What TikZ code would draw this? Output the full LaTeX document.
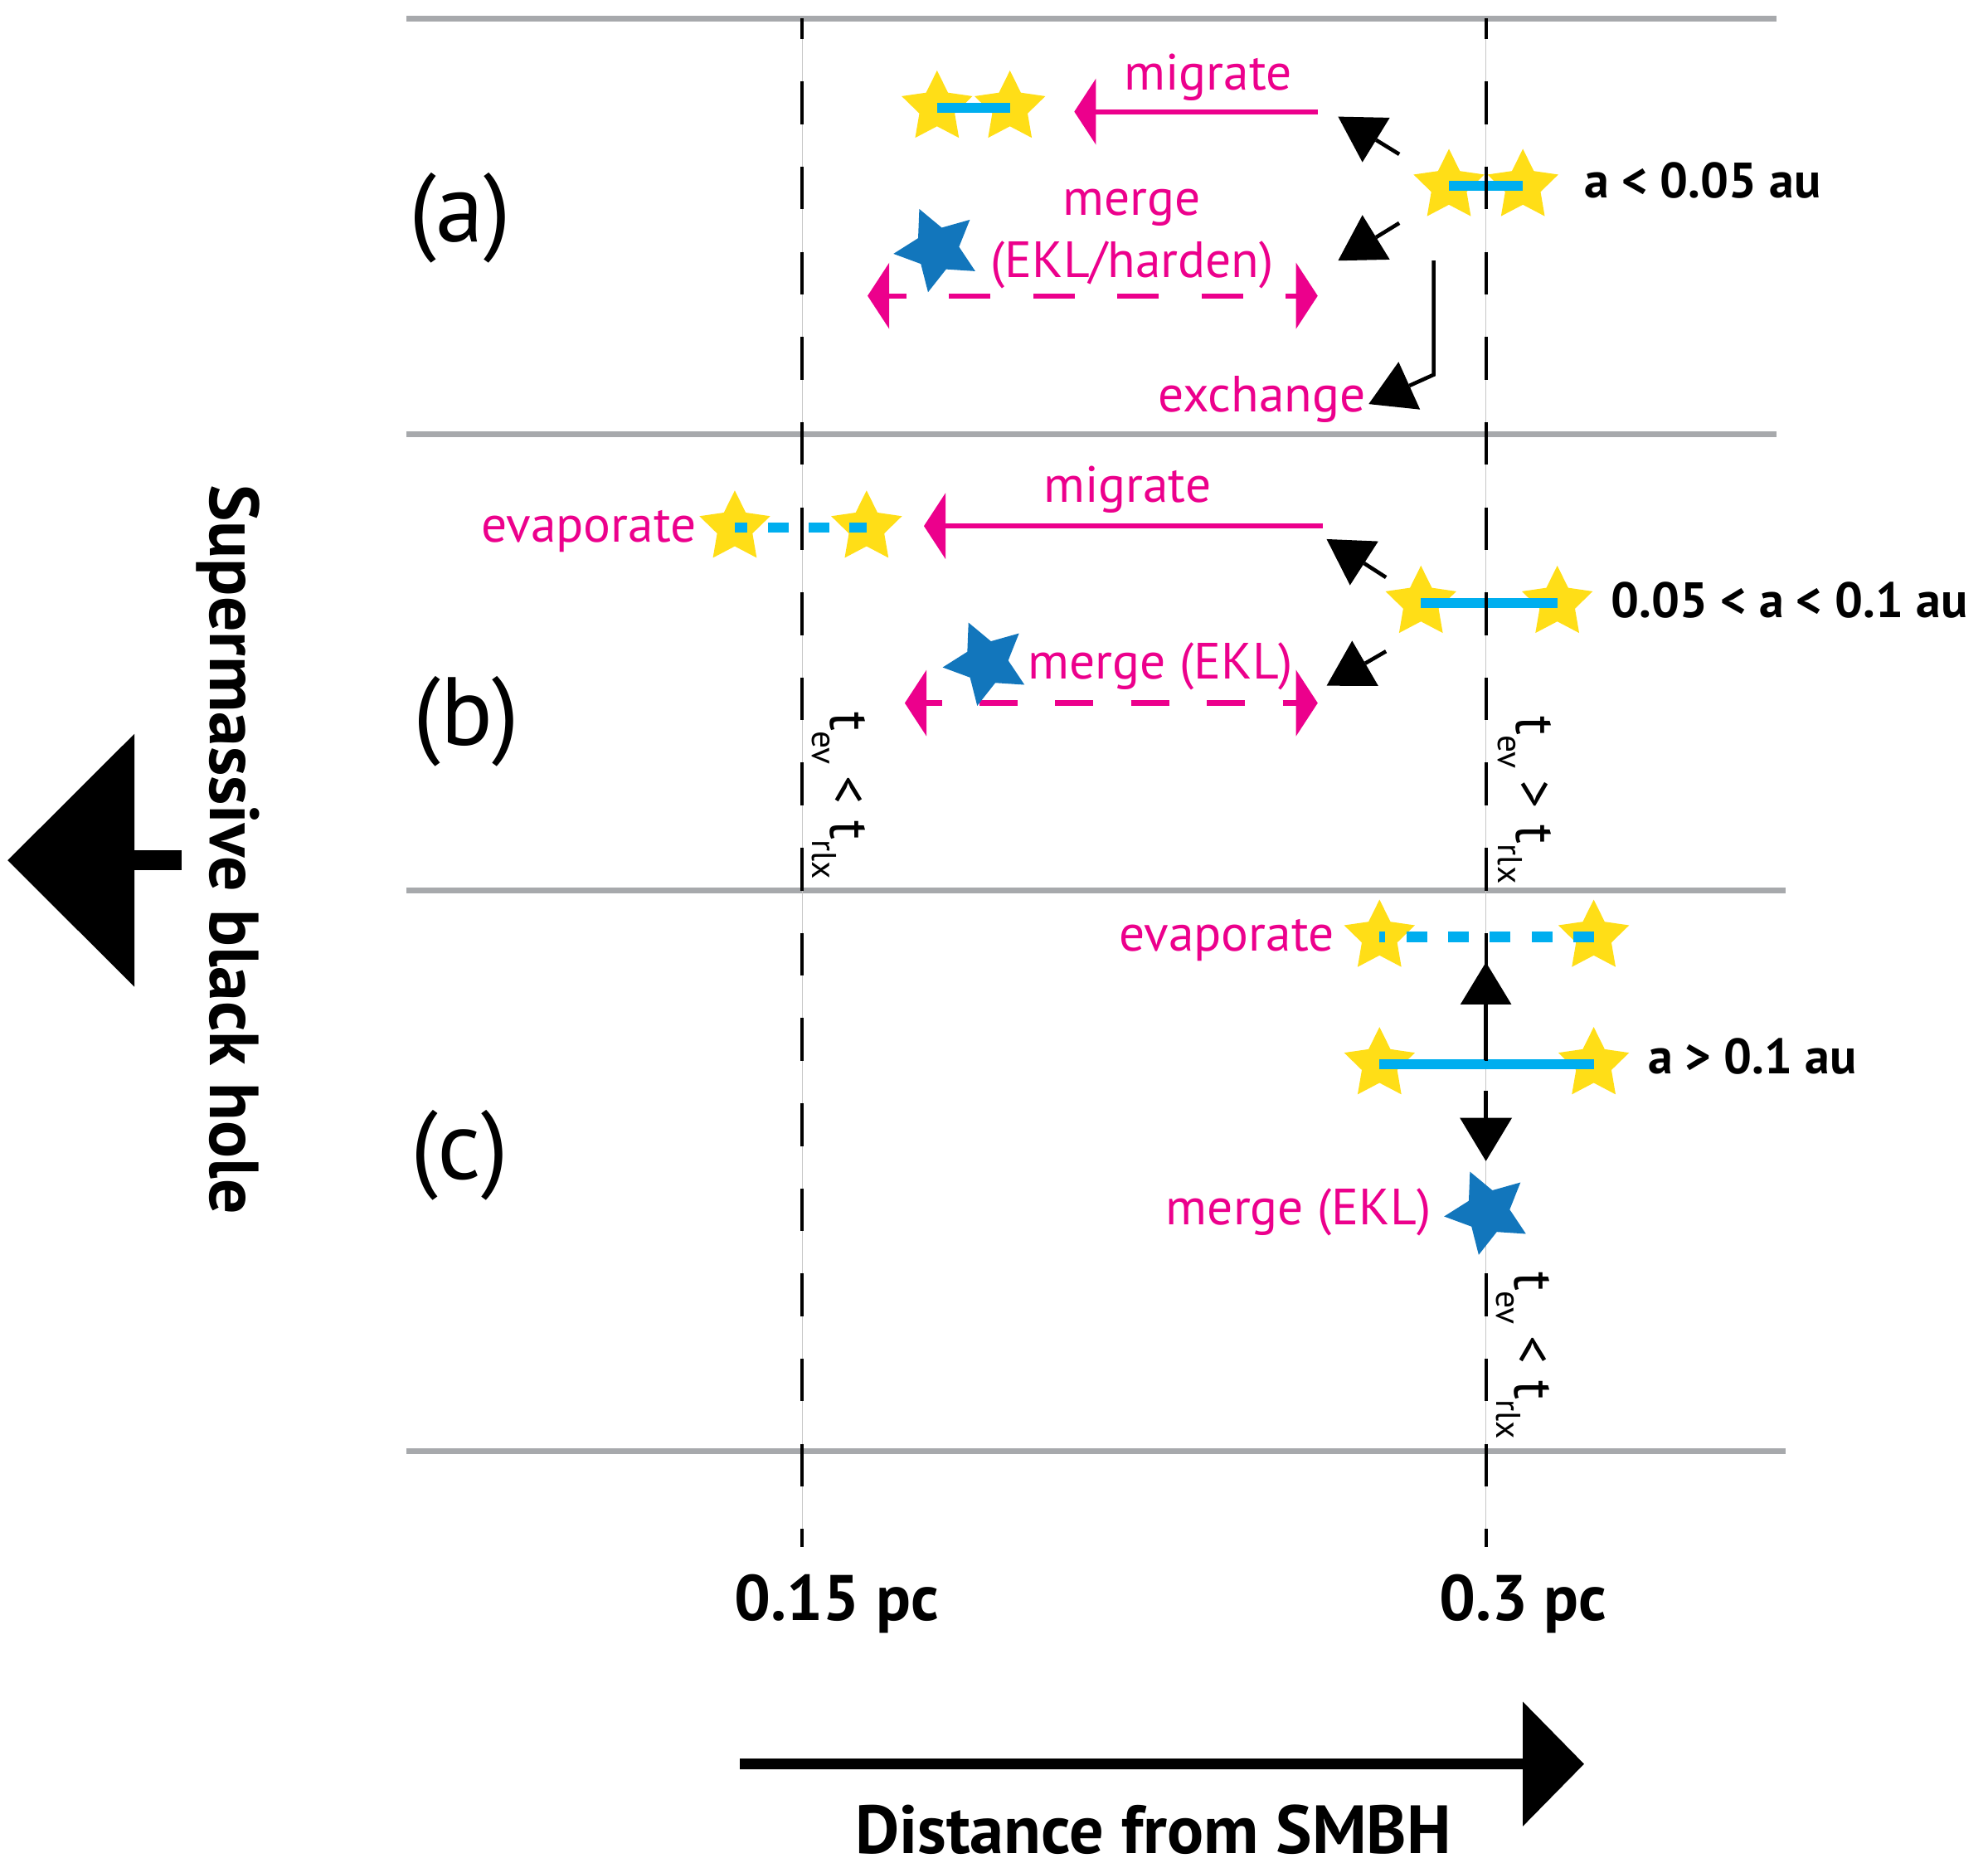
\documentclass[tikz,border=0pt]{standalone}
\usepackage{fontspec}
\setmainfont{PT Sans}
\usetikzlibrary{arrows.meta,shapes.geometric}
\definecolor{mag}{HTML}{EC008C}
\definecolor{ystarc}{HTML}{FFDE17}
\definecolor{cyanbar}{HTML}{00AEEF}
\definecolor{bstarc}{HTML}{1276BC}
\definecolor{sepc}{HTML}{A7A9AC}
\newcommand\tsubx[1]{\raisebox{-14.6pt}{\fontsize{27}{27}\selectfont #1}}
\newcommand\tevrlx[1]{t\tsubx{ev}\hspace{9pt}#1\hspace{13pt}t\tsubx{rlx}}
\begin{document}
\begin{tikzpicture}[x=1pt,y=1pt,
  sepline/.style={draw=sepc,line width=4.5pt},
  guide/.style={draw=black!22,line width=0.7pt},
  dashguide/.style={draw=black,line width=2.7pt,dash pattern=on 33.5pt off 33.3pt,dash phase=17.3pt},
  ys/.style={star,star points=5,star point ratio=2,minimum size=58.4pt,inner sep=0pt,fill=ystarc,draw=none},
  bs/.style={star,star points=5,star point ratio=2,minimum size=69pt,inner sep=0pt,fill=bstarc,draw=none,shape border rotate=24},
  cbar/.style={draw=cyanbar,line width=8pt},
  magarr/.style={draw=mag,line width=4pt,-{Triangle[length=17pt,width=52pt,line width=0pt]}},
  magdarr/.style={draw=mag,line width=4pt,{Triangle[length=17pt,width=52pt,line width=0pt]}-{Triangle[length=17pt,width=52pt,line width=0pt]}},
  blkarr/.style={draw=black,line width=3pt,-{Triangle[length=35pt,width=41pt,line width=0pt]}},
  magtxt/.style={text=mag,font=\fontsize{40}{48}\selectfont,inner sep=0pt},
  blbl/.style={text=black,font=\fontsize{39}{46}\selectfont\bfseries,inner sep=0pt},
  axlbl/.style={text=black,font=\fontsize{50.5}{58}\selectfont\bfseries,inner sep=0pt},
  ttl/.style={text=black,font=\fontsize{53.5}{60}\selectfont\bfseries,inner sep=0pt},
  ttlb/.style={text=black,font=\fontsize{54.5}{60}\selectfont\bfseries,inner sep=0pt},
  plbl/.style={text=black,font=\fontsize{76}{90}\selectfont,inner sep=0pt},
  tlbl/.style={text=black,font=\fontsize{44}{50}\selectfont,inner sep=0pt,rotate=-90,anchor=base west}
]
\useasboundingbox (0,0) rectangle (1560,-1465);

% separator lines
\coordinate (h1l) at (319,-14.5);   \coordinate (h1r) at (1394,-14.5);
\coordinate (h2l) at (319,-340.5);  \coordinate (h2r) at (1394,-340.5);
\coordinate (h3l) at (319,-698.5);  \coordinate (h3r) at (1401,-698.5);
\coordinate (h4l) at (319,-1138.5); \coordinate (h4r) at (1401,-1138.5);
\draw[sepline] (h1l) -- (h1r);
\draw[sepline] (h2l) -- (h2r);
\draw[sepline] (h3l) -- (h3r);
\draw[sepline] (h4l) -- (h4r);

% thin guides
\coordinate (v1t) at (629.5,-14.5); \coordinate (v1b) at (629.5,-1214);
\coordinate (v2t) at (1166,-14.5);  \coordinate (v2b) at (1166,-1214);
\draw[guide] (v1t) -- (v1b);
\draw[guide] (v2t) -- (v2b);

% stars
\node[ys] (am1) at (735.3,-84.5) {};
\node[ys] (am2) at (792.5,-84.5) {};
\node[ys] (ab1) at (1137,-146) {};
\node[ys] (ab2) at (1195,-146) {};
\node[ys] (be1) at (576.6,-414) {};
\node[ys] (be2) at (680,-414) {};
\node[ys] (bb1) at (1115,-473) {};
\node[ys] (bb2) at (1222,-473) {};
\node[ys] (ce1) at (1082.5,-735) {};
\node[ys] (ce2) at (1250.6,-735) {};
\node[ys] (cb1) at (1082.5,-835) {};
\node[ys] (cb2) at (1250.6,-835) {};

% bars
\draw[cbar] (am1.center) -- (am2.center);
\draw[cbar] (ab1.center) -- (ab2.center);
\draw[cbar,dash pattern=on 16pt off 16pt,dash phase=6pt] (be1.center) -- (be2.center);
\draw[cbar] (bb1.center) -- (bb2.center);
\draw[cbar,dash pattern=on 16.3pt off 16.5pt,dash phase=11.8pt] (ce1.center) -- (ce2.center);
\draw[cbar] (cb1.center) -- (cb2.center);

% dashed distance lines
\draw[dashguide] (v1t) -- (v1b);
\draw[dashguide] (v2t) -- (v2b);

% magenta arrows
\coordinate (amS) at (1034,-87.6); \coordinate (amT) at (843,-87.6);
\draw[magarr] (amS) -- (amT);
\coordinate (bmS) at (1038,-412.7); \coordinate (bmT) at (725,-412.7);
\draw[magarr] (bmS) -- (bmT);
\coordinate (adL) at (680.8,-232.1); \coordinate (adR) at (1034,-232.1);
\draw[magdarr,dash pattern=on 32.5pt off 33.5pt,dash phase=19pt] (adL) -- (adR);
\coordinate (bdL) at (710,-551.6); \coordinate (bdR) at (1034,-551.6);
\draw[magdarr,dash pattern=on 30pt off 29.5pt,dash phase=18pt] (bdL) -- (bdR);

% blue merged stars
\node[bs] (amg) at (735.4,-195.5) {};
\node[bs] (bmg) at (774,-520) {};
\node[bs] (cmg) at (1167.5,-950.8) {};

% black arrows
\coordinate (auS) at (1098,-121); \coordinate (auT) at (1050,-91.5);
\draw[blkarr] (auS) -- (auT);
\coordinate (alS) at (1098,-175); \coordinate (alT) at (1050,-204.5);
\draw[blkarr] (alS) -- (alT);
\coordinate (exS) at (1125,-204.5); \coordinate (exK) at (1125,-294); \coordinate (exT) at (1074,-317);
\draw[blkarr] (exS) -- (exK) -- (exT);
\coordinate (buS) at (1087.6,-453); \coordinate (buT) at (1041,-423);
\draw[blkarr] (buS) -- (buT);
\coordinate (blS) at (1087.6,-511); \coordinate (blT) at (1041,-538);
\draw[blkarr] (blS) -- (blT);
\coordinate (cuS) at (1166,-832); \coordinate (cuT) at (1166,-755);
\draw[blkarr,-{Triangle[length=33pt,width=40pt,line width=0pt]}] (cuS) -- (cuT);
\coordinate (cdS) at (1166,-856); \coordinate (cdT) at (1166,-911);
\draw[blkarr,-{Triangle[length=34pt,width=41pt,line width=0pt]}] (cdS) -- (cdT);

% big arrows
\coordinate (smS) at (142.5,-675); \coordinate (smT) at (6,-675);
\draw[line width=16pt,-{Triangle[length=99.5pt,width=198.5pt,line width=0pt]}] (smS) -- (smT);
\coordinate (dsS) at (580.7,-1384); \coordinate (dsT) at (1243,-1384);
\draw[line width=8.3pt,-{Triangle[length=48pt,width=97.7pt,line width=0pt]}] (dsS) -- (dsT);

% magenta labels
\node[magtxt,anchor=base] (tmigA) at (948,-70.5) {migrate};
\node[magtxt,anchor=base] (tmerA) at (888,-169.2) {merge};
\node[magtxt,anchor=base] (tekl) at (888.4,-218) {(EKL/harden)};
\node[magtxt,anchor=base east] (texch) at (1071.7,-323.2) {exchange};
\node[magtxt,anchor=base] (tmigB) at (884.6,-393.8) {migrate};
\node[magtxt,anchor=base east] (tevB) at (546.5,-425.1) {evaporate};
\node[magtxt,anchor=base] (tmerB) at (910.7,-532.4) {merge (EKL)};
\node[magtxt,anchor=base east] (tevC) at (1047,-746.2) {evaporate};
\node[magtxt,anchor=base east] (tmerC) at (1123,-960.6) {merge (EKL)};

% black labels
\node[blbl,anchor=base west] (la) at (1243,-155.1) {a < 0.05 au};
\node[blbl,anchor=base west] (lb) at (1264,-484.4) {0.05 < a < 0.1 au};
\node[blbl,anchor=base west] (lc) at (1293,-842.5) {a > 0.1 au};
\node[axlbl,anchor=base] (x1) at (656.5,-1271.3) {0.15 pc};
\node[axlbl,anchor=base] (x2) at (1195,-1271.3) {0.3 pc};
\node[ttl,anchor=base] (xt) at (905,-1454) {Distance from SMBH};
\node[ttlb,rotate=-90,anchor=base] (yt) at (165,-666.5) {Supermassive black hole};
\node[plbl,anchor=base] (pa) at (361,-189.8) {(a)};
\node[plbl,anchor=base] (pb) at (366,-585) {(b)};
\node[plbl,anchor=base] (pc) at (360.5,-925) {(c)};

% timescale labels
\node[tlbl] (t1) at (652,-558.5) {\tevrlx{<}};
\node[tlbl] (t2) at (1190,-562) {\tevrlx{>}};
\node[tlbl] (t3) at (1189,-998) {\tevrlx{<}};
\end{tikzpicture}
\end{document}
